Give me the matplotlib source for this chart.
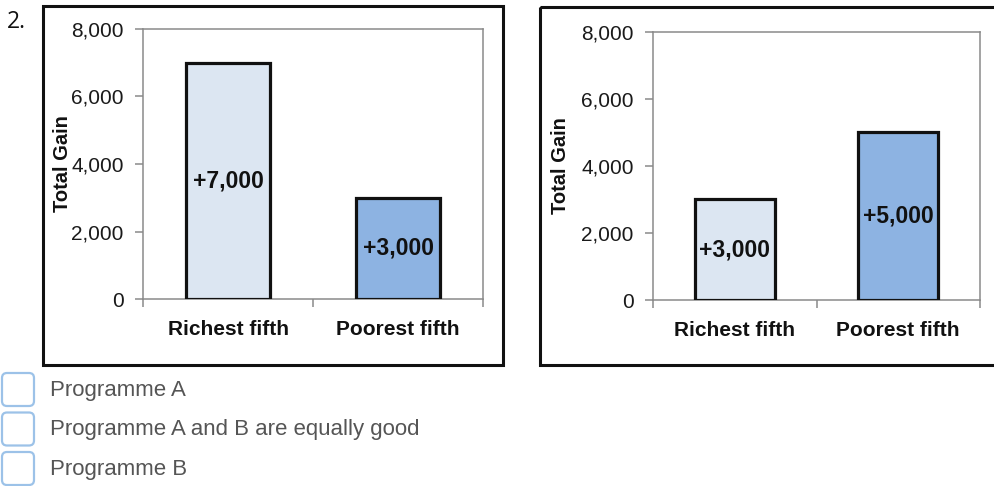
import matplotlib
matplotlib.use("Agg")
import matplotlib.pyplot as plt
from matplotlib.patches import Rectangle, FancyBboxPatch
from matplotlib.ticker import FuncFormatter

# Data
categories = ["Richest fifth", "Poorest fifth"]
gain_a = [7000, 3000]
gain_b = [3000, 5000]
bar_labels_a = ["+7,000", "+3,000"]
bar_labels_b = ["+3,000", "+5,000"]
y_ticks = [0, 2000, 4000, 6000, 8000]
options = ["Programme A", "Programme A and B are equally good", "Programme B"]

bar_colors = ["#dce6f2", "#8db3e2"]
spine_gray = "#8a8a8a"

plt.rcParams["font.family"] = ["Liberation Sans", "DejaVu Sans"]

W, H = 994, 486
fig = plt.figure(figsize=(W / 100, H / 100), dpi=100)

# Page layer in pixel coordinates for frames, question number and options
page = fig.add_axes([0, 0, 1, 1], zorder=0)
page.set_xlim(0, W)
page.set_ylim(H, 0)
page.axis("off")
page.patch.set_alpha(0)

page.add_patch(Rectangle((43, 6), 460, 359, fill=False, ec="#111111", lw=2.2))
page.add_patch(Rectangle((540, 7), 470, 358, fill=False, ec="#111111", lw=2.2))
page.text(7, 22, "2.", fontsize=16.5, family=["Open Sans", "DejaVu Sans"],
          color="#111111", va="center", ha="left")

for i, label in enumerate(options):
    top = 373 + i * 39.5
    page.add_patch(FancyBboxPatch((2, top), 32, 33,
                                  boxstyle="round,pad=0,rounding_size=5",
                                  fc="white", ec="#9cc2e8", lw=1.6))
    page.text(50, top + 17, label, fontsize=16, color="#555555",
              va="center", ha="left")


def panel(rect, values, labels):
    ax = fig.add_axes(rect, zorder=2)
    x = range(len(categories))
    ax.bar(x, values, width=0.49, color=bar_colors, edgecolor="#111111",
           linewidth=2.3, zorder=3)
    for xi, v, t in zip(x, values, labels):
        ax.text(xi, v / 2, t, ha="center", va="center", fontsize=16.5,
                fontweight="bold", color="#111111", zorder=4)
    ax.set_xlim(-0.5, 1.5)
    ax.set_ylim(0, 8000)
    ax.set_yticks(y_ticks)
    ax.yaxis.set_major_formatter(FuncFormatter(lambda v, p: f"{int(v):,}"))
    ax.set_xticks(list(x))
    ax.set_xticklabels(categories, fontsize=15, fontweight="bold", color="#111111")
    ax.set_xticks([-0.5, 0.5, 1.5], minor=True)
    ax.tick_params(axis="x", which="major", length=0, pad=15)
    ax.tick_params(axis="x", which="minor", length=6, width=1.1,
                   color=spine_gray, direction="out")
    ax.tick_params(axis="y", length=6, width=1.1, color=spine_gray,
                   labelsize=15, labelcolor="#1a1a1a", pad=8)
    for s in ax.spines.values():
        s.set_color(spine_gray)
        s.set_linewidth(1.1)
    ax.set_ylabel("Total Gain", fontsize=14.5, fontweight="bold", color="#111111")
    return ax


ax_a = panel([143 / W, 1 - 299 / H, 340 / W, 270 / H], gain_a, bar_labels_a)
ax_b = panel([653 / W, 1 - 300 / H, 327 / W, 268 / H], gain_b, bar_labels_b)
ax_a.yaxis.set_label_coords(-0.21, 0.5)
ax_b.yaxis.set_label_coords(-0.255, 0.5)

fig.savefig("out.png", dpi=100)
